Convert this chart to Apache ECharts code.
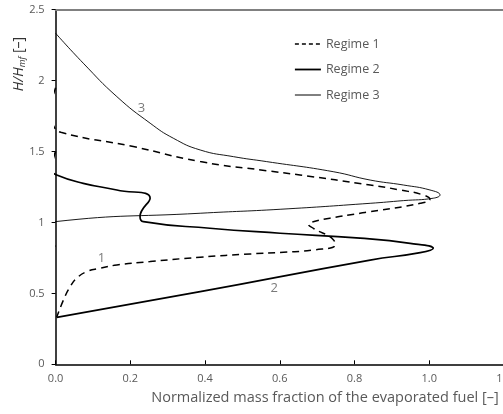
<!DOCTYPE html>
<html>
<head>
<meta charset="utf-8">
<script src="https://cdn.jsdelivr.net/npm/echarts@6/dist/echarts.min.js"></script>
<style>
html,body{margin:0;padding:0;background:#fff;}
#c{width:503px;height:414px;}
</style>
</head>
<body>
<div id="c"></div>
<script>
// x tick values and y range
var xTicks = [0.0, 0.2, 0.4, 0.6, 0.8, 1.0, 1.2];
var yTicks = [0, 0.5, 1, 1.5, 2, 2.5];
var seriesNames = ['Regime 1', 'Regime 2', 'Regime 3'];

// Regime 1 (dashed): [mass fraction, H/Hmf]
var regime1 = [
  [0, 1.95], [-0.009, 1.87], [-0.015, 1.79], [-0.007, 1.69], [0.014, 1.636],
  [0.208, 1.535], [0.387, 1.429], [0.565, 1.365], [0.654, 1.335], [0.842, 1.264],
  [0.922, 1.229], [0.984, 1.194], [1.002, 1.164], [0.976, 1.135], [0.842, 1.076],
  [0.815, 1.065], [0.734, 1.030], [0.681, 0.999], [0.677, 0.989], [0.690, 0.959],
  [0.744, 0.877], [0.748, 0.841], [0.690, 0.806], [0.610, 0.790], [0.521, 0.778],
  [0.387, 0.755], [0.253, 0.724], [0.164, 0.700], [0.119, 0.677], [0.083, 0.653],
  [0.056, 0.606], [0.039, 0.547], [0.021, 0.453], [0.003, 0.331]
];

// Regime 2 (thick solid)
var regime2 = [
  [0, 1.50], [-0.008, 1.43], [-0.011, 1.37], [0.003, 1.335], [0.074, 1.276],
  [0.164, 1.229], [0.253, 1.171], [0.226, 1.041], [0.235, 1.006], [0.413, 0.959],
  [0.601, 0.924], [0.815, 0.889], [0.949, 0.853], [1.011, 0.818], [0.976, 0.787],
  [0.842, 0.735], [0.387, 0.512], [0.003, 0.331]
];

// Regime 3 (thin solid)
var regime3 = [
  [0, 2.334], [0.074, 2.123], [0.164, 1.887], [0.253, 1.700], [0.315, 1.594],
  [0.387, 1.511], [0.476, 1.464], [0.565, 1.429], [0.743, 1.358], [0.842, 1.299],
  [0.931, 1.264], [1.002, 1.229], [1.029, 1.194], [1.011, 1.171], [0.931, 1.154],
  [0.842, 1.135], [0.601, 1.093], [0.387, 1.065],
  [0, 1.006], [-0.012, 0.95], [-0.010, 0.89], [0, 0.83]
];

// curve number annotations
var curveLabels = [
  {name: '1', value: [0.123, 0.747]},
  {name: '2', value: [0.585, 0.536]},
  {name: '3', value: [0.230, 1.805]}
];

var FONT = "'Open Sans', 'Noto Sans', sans-serif";
var GRAY = '#595959';

var chart = echarts.init(document.getElementById('c'), null, {renderer: 'canvas'});
chart.setOption({
  animation: false,
  backgroundColor: '#fff',
  textStyle: {fontFamily: FONT},
  grid: {left: 55.6, top: 9.7, width: 448.3, height: 354.6, containLabel: false, outerBoundsMode: 'none'},
  legend: {
    data: [
      {name: seriesNames[0], lineStyle: {type: [4, 3], width: 1.5}},
      {name: seriesNames[1], lineStyle: {width: 1.8}},
      {name: seriesNames[2], lineStyle: {width: 1}}
    ],
    orient: 'vertical',
    left: 289, top: 32.5,
    itemWidth: 26, itemHeight: 14, itemGap: 12.5,
    itemStyle: {opacity: 0},
    textStyle: {fontSize: 12.5, color: GRAY, fontFamily: FONT}
  },
  xAxis: [{
    type: 'value', min: xTicks[0], max: xTicks[xTicks.length - 1], interval: 0.2,
    axisLine: {lineStyle: {color: '#000', width: 1.5}},
    axisTick: {inside: true, length: 4, lineStyle: {color: '#000'}},
    axisLabel: {color: GRAY, fontSize: 11, margin: 9, fontFamily: FONT,
      formatter: function (v) { return v.toFixed(1); }},
    splitLine: {show: false}
  }, {
    type: 'value', position: 'top', min: xTicks[0], max: xTicks[xTicks.length - 1],
    axisLine: {show: true, lineStyle: {color: '#808080', width: 2}},
    axisTick: {show: false}, axisLabel: {show: false}, splitLine: {show: false}
  }],
  yAxis: {
    type: 'value', min: yTicks[0], max: yTicks[yTicks.length - 1], interval: 0.5,
    axisLine: {show: true, lineStyle: {color: '#000', width: 1.5}},
    axisTick: {show: true, inside: false, length: 4, lineStyle: {color: '#000'}},
    axisLabel: {color: GRAY, fontSize: 11, margin: 11, fontFamily: FONT},
    splitLine: {show: false}
  },
  graphic: [{
    type: 'text', x: 19, y: 64, rotation: Math.PI / 2,
    style: {
      text: '{i|H/H}{s|mf} [–]', align: 'center', verticalAlign: 'middle',
      fill: '#333', font: '14px ' + FONT,
      rich: {
        i: {fontStyle: 'italic', fontSize: 14, fill: '#333', fontFamily: FONT},
        s: {fontStyle: 'italic', fontSize: 9, fill: '#333', fontFamily: FONT, padding: [6, 0, 0, 0]}
      }
    }
  }, {
    type: 'text', x: 325, y: 398,
    style: {
      text: 'Normalized mass fraction of the evaporated fuel [–]',
      align: 'center', verticalAlign: 'middle', fill: GRAY, font: '14.5px ' + FONT
    }
  }],
  series: [{
    name: seriesNames[0], type: 'line', data: regime1, symbol: 'none', smooth: 0.5, clip: false,
    lineStyle: {color: '#000', width: 1.5, type: [7, 5]}, itemStyle: {color: '#000'}
  }, {
    name: seriesNames[1], type: 'line', data: regime2, symbol: 'none', smooth: 0.5, clip: false,
    lineStyle: {color: '#000', width: 1.7}, itemStyle: {color: '#000'}
  }, {
    name: seriesNames[2], type: 'line', data: regime3, symbol: 'none', smooth: 0.5, clip: false,
    lineStyle: {color: '#000', width: 0.9}, itemStyle: {color: '#000'}
  }, {
    name: 'labels', type: 'scatter', data: curveLabels, symbolSize: 0, silent: true,
    label: {show: true, position: 'inside', formatter: '{b}', color: GRAY, fontSize: 13, fontFamily: FONT}
  }]
});
</script>
</body>
</html>
